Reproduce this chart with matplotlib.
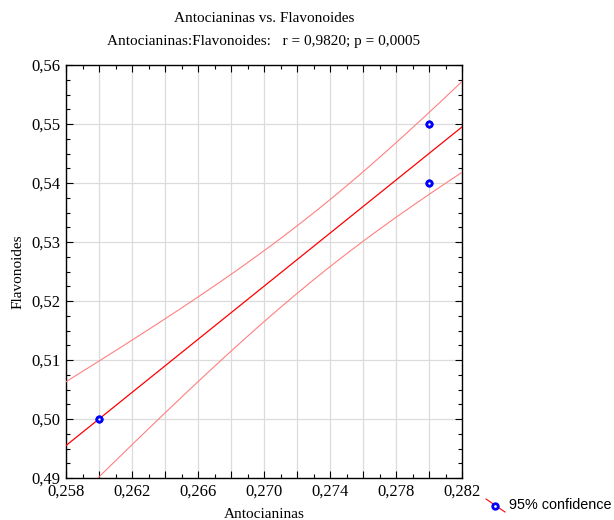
import numpy as np
import matplotlib
matplotlib.use("Agg")
import matplotlib.pyplot as plt
from matplotlib.lines import Line2D
from matplotlib.ticker import MultipleLocator, FuncFormatter

# data (overlapping points: n = 6)
antocianinas = np.array([0.260, 0.260, 0.280, 0.280, 0.280, 0.280])
flavonoides = np.array([0.500, 0.500, 0.550, 0.550, 0.540, 0.540])
t_crit = 2.776  # t(0.975, df=4)

# regression + 95% confidence band
n = len(antocianinas)
slope, intercept = np.polyfit(antocianinas, flavonoides, 1)
resid = flavonoides - (slope * antocianinas + intercept)
s = np.sqrt((resid ** 2).sum() / (n - 2))
xm = antocianinas.mean()
sxx = ((antocianinas - xm) ** 2).sum()
xs = np.linspace(0.258, 0.282, 200)
yfit = slope * xs + intercept
half = t_crit * s * np.sqrt(1 / n + (xs - xm) ** 2 / sxx)

serif = "Liberation Serif"
fig = plt.figure(figsize=(6.14, 5.2), dpi=100)
ax = fig.add_axes([66 / 614, 1 - 478 / 520, 396 / 614, 413 / 520])

ax.plot(xs, yfit, color="#ff0000", lw=0.9, zorder=3)
ax.plot(xs, yfit + half, color="#ff8080", lw=0.8, zorder=3)
ax.plot(xs, yfit - half, color="#ff8080", lw=0.8, zorder=3)
ax.scatter(antocianinas, flavonoides, s=14, facecolor="white", edgecolor="#0000ff",
           linewidth=2, zorder=4, clip_on=False)

ax.set_xlim(0.258, 0.282)
ax.set_ylim(0.49, 0.56)
ax.xaxis.set_major_locator(MultipleLocator(0.002))
ax.xaxis.set_minor_locator(MultipleLocator(0.001))
ax.yaxis.set_major_locator(MultipleLocator(0.01))
ax.yaxis.set_minor_locator(MultipleLocator(0.0025))

def xfmt(v, pos):
    k = round((v - 0.258) / 0.002)
    return ("%.3f" % v).replace(".", ",") if k % 2 == 0 else ""

ax.xaxis.set_major_formatter(FuncFormatter(xfmt))
ax.yaxis.set_major_formatter(FuncFormatter(lambda v, p: ("%.2f" % v).replace(".", ",")))
ax.grid(True, which="major", color="#dcdcdc", lw=0.9)
ax.set_axisbelow(True)
ax.tick_params(which="both", direction="in", top=True, right=True, width=0.8,
               labelsize=12, pad=4)
ax.tick_params(which="major", length=5)
ax.tick_params(which="minor", length=3)
for lab in ax.get_xticklabels() + ax.get_yticklabels():
    lab.set_fontfamily(serif)
for sp in ax.spines.values():
    sp.set_linewidth(1.0)

ax.set_xlabel("Antocianinas", fontfamily=serif, fontsize=11, labelpad=6)
ax.set_ylabel("Flavonoides", fontfamily=serif, fontsize=11, labelpad=5)
fig.text(264 / 614, 1 - 19 / 520, "Antocianinas vs. Flavonoides", ha="center", va="center",
         fontfamily=serif, fontsize=11)
fig.text(264 / 614, 1 - 42 / 520, "Antocianinas:Flavonoides:   r = 0,9820; p = 0,0005",
         ha="center", va="center", fontfamily=serif, fontsize=11)

# legend drawn by hand outside the axes: diagonal red line with marker
fig.add_artist(Line2D([486 / 614, 505 / 614], [1 - 499 / 520, 1 - 512 / 520],
                      transform=fig.transFigure, color="#ff0000", lw=0.8))
fig.add_artist(Line2D([495 / 614], [1 - 505.5 / 520], transform=fig.transFigure,
                      marker="o", markersize=4, markerfacecolor="white",
                      markeredgecolor="#0000ff", markeredgewidth=2, lw=0))
fig.text(509 / 614, 1 - 505 / 520, "95% confidence", ha="left", va="center",
         fontfamily="Liberation Sans", fontsize=10.4)

fig.savefig("out.png", dpi=100)
